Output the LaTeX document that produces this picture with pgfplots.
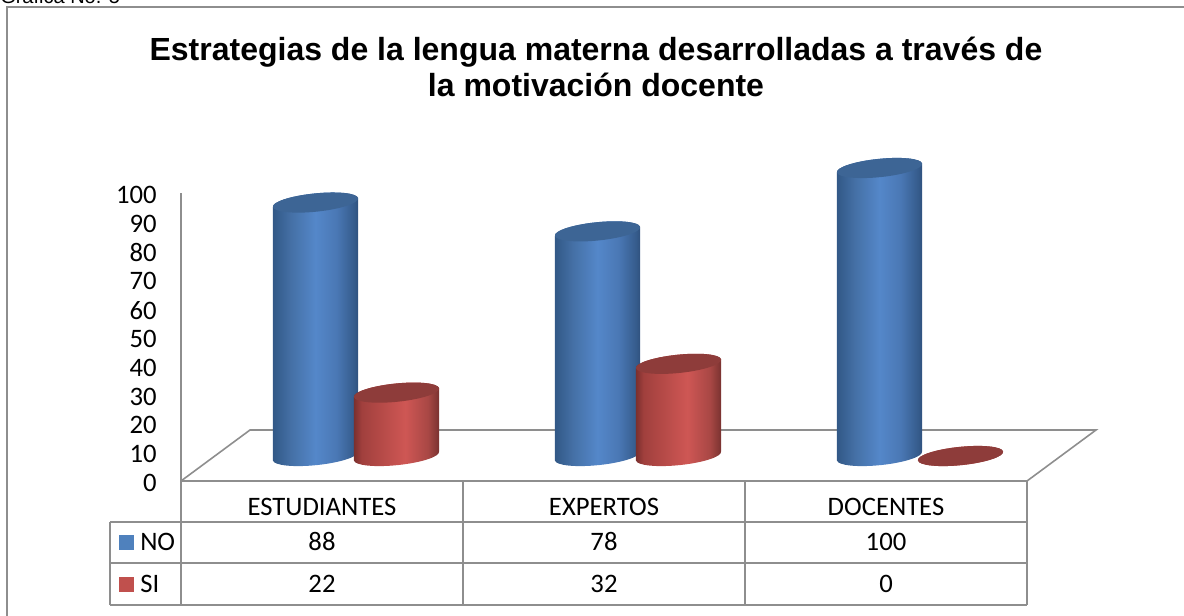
\documentclass[border=0pt]{standalone}
\usepackage{pgfplots}
\usepackage{pgfplotstable}
\pgfplotsset{compat=1.18}
\usepackage{fontspec}
\setmainfont{Carlito}
\newfontfamily\arialf{Liberation Sans}
\definecolor{gridg}{HTML}{8E8E8E}
\definecolor{blueleg}{HTML}{4F81BD}
\definecolor{redleg}{HTML}{C0504D}
\definecolor{bluetop}{HTML}{3D6595}
\definecolor{redtop}{HTML}{8E3C3A}
\pgfdeclarehorizontalshading{cylblue}{100bp}{rgb(0bp)=(0.19,0.34,0.52); rgb(25bp)=(0.19,0.34,0.52); rgb(36bp)=(0.27,0.44,0.65); rgb(50bp)=(0.33,0.53,0.79); rgb(62bp)=(0.29,0.47,0.71); rgb(72bp)=(0.21,0.36,0.55); rgb(75bp)=(0.18,0.31,0.48); rgb(100bp)=(0.18,0.31,0.48)}
\pgfdeclarehorizontalshading{cylred}{100bp}{rgb(0bp)=(0.46,0.18,0.17); rgb(25bp)=(0.46,0.18,0.17); rgb(30bp)=(0.63,0.25,0.24); rgb(55bp)=(0.81,0.34,0.33); rgb(68bp)=(0.66,0.28,0.27); rgb(75bp)=(0.46,0.19,0.18); rgb(100bp)=(0.46,0.19,0.18)}
\newcommand\cyl[2]{%
  \pgfmathsetlengthmacro\HH{\pgfplotspointmeta*2.16pt}%
  \pgfpathmoveto{\pgfpoint{-31.9pt}{-3.4pt}}%
  \pgfpathlineto{\pgfpoint{-31.9pt}{-3.4pt-\HH}}%
  \pgfpatharcaxes{180}{360}{\pgfpoint{31.9pt}{3.4pt}}{\pgfpoint{-1.5pt}{6.75pt}}%
  \pgfpathlineto{\pgfpoint{31.9pt}{3.4pt}}%
  \pgfpatharcaxes{0}{180}{\pgfpoint{31.9pt}{3.4pt}}{\pgfpoint{-1.5pt}{6.75pt}}%
  \pgfpathclose
  \pgfshadepath{#1}{0}%
  \pgfusepath{discard}%
  \pgfsetfillcolor{#2}%
  \pgfpathellipse{\pgfpointorigin}{\pgfpoint{31.9pt}{3.4pt}}{\pgfpoint{-1.5pt}{6.75pt}}%
  \pgfusepath{fill}%
}
\pgfdeclareplotmark{cylNO}{\cyl{cylblue}{bluetop}}
\pgfdeclareplotmark{cylSI}{\cyl{cylred}{redtop}}
\pgfplotstableread{
x no si
0 88 22
1 78 32
2 100 0
}\datatable
\begin{document}
\begin{tikzpicture}
\useasboundingbox (0,0) rectangle (888pt,-462pt);
\clip (0,0) rectangle (888pt,-462pt);
\begin{scope}[x=.75pt,y=-.75pt]
  \node[anchor=base west,inner sep=0pt,font=\arialf\fontsize{15}{18}\selectfont] at (0,4) {Gráfica No. 5};
  \draw[gridg,line width=1.6pt] (7,616) -- (7,7);
  \draw[gridg,line width=1.1pt] (6.4,7) -- (1184,7);
  \node[align=center,inner sep=0pt,font=\arialf\bfseries\fontsize{24}{27}\selectfont] at (596,67) {Estrategias de la lengua materna desarrolladas a través de\\la motivación docente};
  % floor
  \draw[gridg,line width=1.2pt,line join=miter] (181,481) -- (250,430) -- (1096,430) -- (1027,481);
  % table
  \draw[gridg,line width=1.6pt] (110,522) -- (1027,522) (110,563) -- (1027,563) (110,605) -- (1027,605)
    (181,481) -- (1027,481) (110,522) -- (110,605) (181,481) -- (181,605) (463,481) -- (463,605) (745,481) -- (745,605) (1027,481) -- (1027,605);
  \fill[blueleg] (119,535) rectangle (134,550);
  \fill[redleg] (119,577) rectangle (134,592);
  \begin{scope}[every node/.style={inner sep=0pt,font=\fontsize{20}{22}\selectfont,anchor=base}]
    \node[anchor=base west] at (140,550) {NO};
    \node[anchor=base west] at (140,592) {SI};
    \node at (322,550) {88}; \node at (604,550) {78}; \node at (886,550) {100};
    \node at (322,592) {22}; \node at (604,592) {32}; \node at (886,592) {0};
  \end{scope}
\end{scope}
\begin{axis}[
  at={(135.75pt,-360.75pt)},anchor=south west,
  scale only axis,width=634.5pt,height=216pt,
  xmin=-0.5,xmax=2.5,ymin=0,ymax=100,
  axis x line=bottom,axis y line=left,
  y axis line style={draw=gridg,line width=1.2pt,-},
  x axis line style={draw=none,-},
  ytick distance=10,major tick length=0pt,
  xtick={0,1,2},xticklabels={ESTUDIANTES,EXPERTOS,DOCENTES},
  /pgf/number format/assume math mode=true,
  tick label style={font=\fontsize{20}{22}\selectfont},
  yticklabel style={xshift=-18pt,yshift=-1.5pt,inner sep=0pt},
  xticklabel style={yshift=-12.5pt,inner sep=0pt},
]
\end{axis}
\begin{axis}[
  at={(161.25pt,-342pt)},anchor=south west,
  scale only axis,width=634.5pt,height=216pt,
  xmin=-0.5,xmax=2.5,ymin=0,ymax=100,
  hide axis,clip=false,
]
\addplot[scatter,only marks,mark=cylNO,xshift=-30.375pt,point meta=explicit symbolic,
  scatter/@pre marker code/.code={},scatter/@post marker code/.code={}]
  table[x=x,y=no,meta=no]{\datatable};
\addplot[scatter,only marks,mark=cylSI,xshift=30.375pt,point meta=explicit symbolic,
  scatter/@pre marker code/.code={},scatter/@post marker code/.code={}]
  table[x=x,y=si,meta=si]{\datatable};
\end{axis}
\end{tikzpicture}
\end{document}
